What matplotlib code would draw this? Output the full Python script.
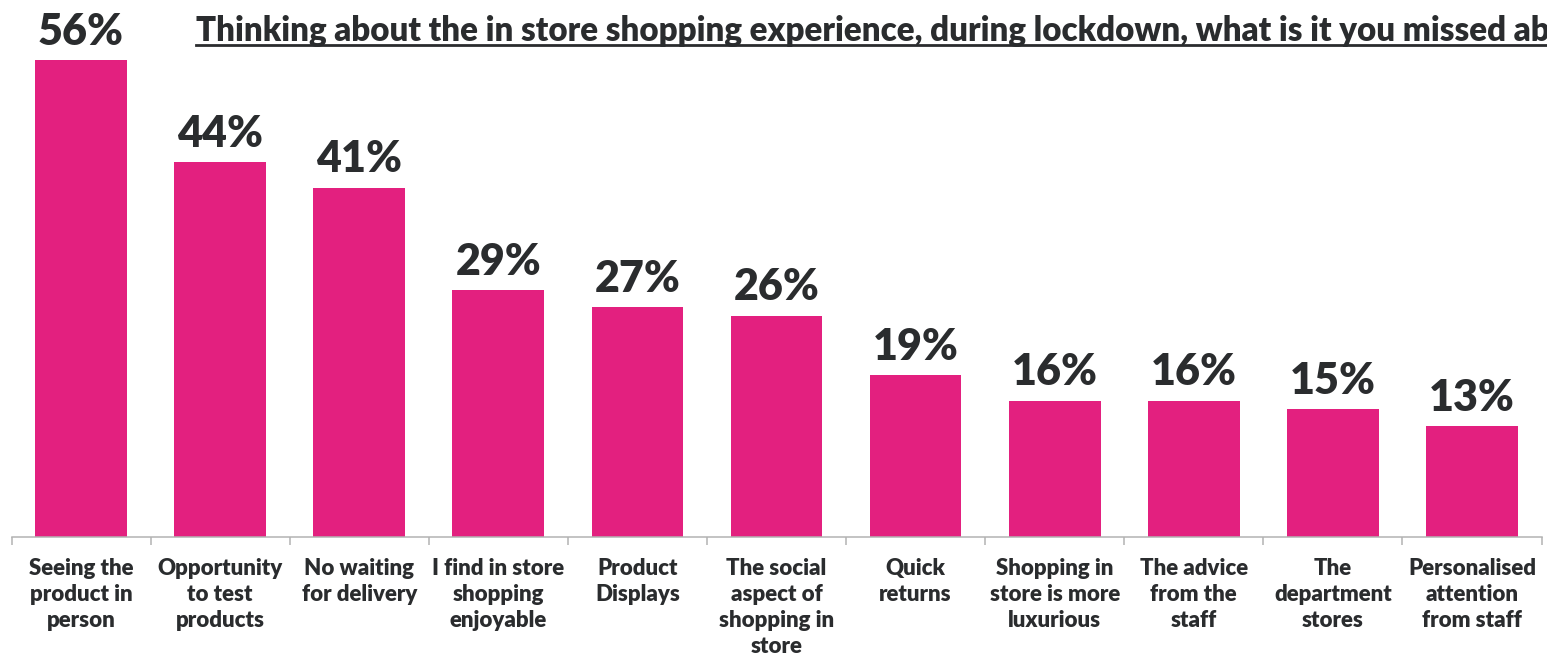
import matplotlib.pyplot as plt
from matplotlib.lines import Line2D

categories = [
    "Seeing the\nproduct in\nperson",
    "Opportunity\nto test\nproducts",
    "No waiting\nfor delivery",
    "I find in store\nshopping\nenjoyable",
    "Product\nDisplays",
    "The social\naspect of\nshopping in\nstore",
    "Quick\nreturns",
    "Shopping in\nstore is more\nluxurious",
    "The advice\nfrom the\nstaff",
    "The\ndepartment\nstores",
    "Personalised\nattention\nfrom staff",
]
values = [56, 44, 41, 29, 27, 26, 19, 16, 16, 15, 13]
title = ("Thinking about the in store shopping experience, during lockdown, "
         "what is it you missed ab")

pink = "#e3207f"
ink = "#2a2c2e"
grey = "#b3b3b3"

plt.rcParams["font.family"] = ["Lato", "DejaVu Sans"]
plt.rcParams["font.weight"] = "heavy"

fig = plt.figure(figsize=(15.47, 6.65), dpi=100)
ax = fig.add_axes([11.5 / 1547, 1 - 537 / 665, 1530 / 1547, (537 - 25) / 665])

x = list(range(len(values)))
ax.bar(x, values, width=0.66, color=pink)
ax.set_xlim(-0.5, len(values) - 0.5)
ax.set_ylim(0, 56 * 512 / 477)

for xi, v in zip(x, values):
    ax.annotate(f"{v}%", (xi, v), xytext=(0, 6), textcoords="offset points",
                ha="center", va="bottom", fontsize=31, fontweight="heavy",
                color=ink, annotation_clip=False)

ax.set_xticks(x)
ax.set_xticklabels(categories, fontsize=16, fontweight="heavy", color=ink,
                   linespacing=1.3, va="top")
ax.tick_params(axis="x", which="major", length=0, pad=15)
ax.set_xticks([i - 0.5 for i in range(len(values) + 1)], minor=True)
ax.tick_params(axis="x", which="minor", length=6, width=1.1, color=grey)

ax.set_yticks([])
for side in ["left", "right", "top"]:
    ax.spines[side].set_visible(False)
ax.spines["bottom"].set_color(grey)
ax.spines["bottom"].set_linewidth(1.1)

# underlined heading
t = fig.text(196 / 1547, 1 - 41 / 665, title, ha="left", va="baseline",
             fontsize=23.8, fontweight="heavy", color=ink)
fig.canvas.draw()
bb = t.get_window_extent().transformed(fig.transFigure.inverted())
uy = 1 - 45 / 665
fig.add_artist(Line2D([bb.x0, bb.x1], [uy, uy], transform=fig.transFigure,
                      color=ink, linewidth=2))

fig.savefig("out.png", dpi=100)
